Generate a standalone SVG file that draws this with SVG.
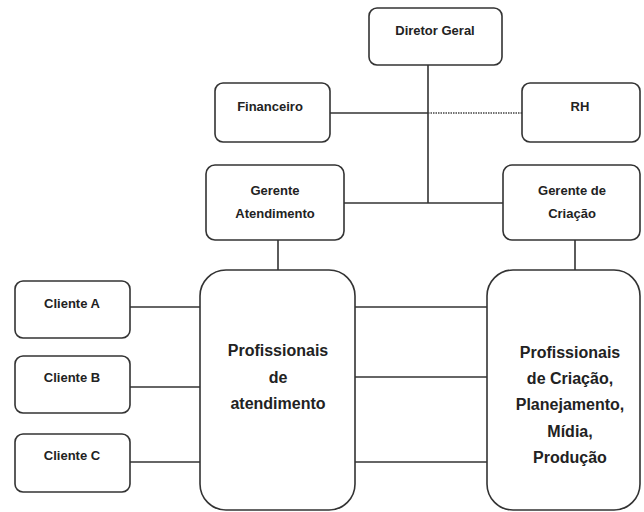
<svg xmlns="http://www.w3.org/2000/svg" width="644" height="512" viewBox="0 0 644 512">
<style>
.box{fill:#fff;stroke:#333;stroke-width:1.6}
.ln{stroke:#333;stroke-width:1.6;fill:none}
.dot{stroke:#444;stroke-width:1.6;stroke-dasharray:1.5 1;fill:none}
.s{font-family:"Liberation Sans",Arial,sans-serif;font-size:13px;font-weight:bold;fill:#222;text-anchor:middle}
.b{font-family:"Liberation Sans",Arial,sans-serif;font-size:16px;font-weight:bold;fill:#222;text-anchor:middle}
</style>
<rect width="644" height="512" fill="#fff"/>
<g id="connectors">
<line class="ln" x1="428" y1="65" x2="428" y2="203"/>
<line class="ln" x1="330" y1="113" x2="428" y2="113"/>
<line class="dot" x1="428" y1="113" x2="522" y2="113"/>
<line class="ln" x1="344" y1="203" x2="503" y2="203"/>
<line class="ln" x1="278" y1="240" x2="278" y2="270"/>
<line class="ln" x1="575" y1="240" x2="575" y2="270"/>
<line class="ln" x1="130" y1="307" x2="200" y2="307"/>
<line class="ln" x1="130" y1="387" x2="200" y2="387"/>
<line class="ln" x1="130" y1="462" x2="200" y2="462"/>
<line class="ln" x1="355" y1="307" x2="487" y2="307"/>
<line class="ln" x1="355" y1="377" x2="487" y2="377"/>
<line class="ln" x1="355" y1="462" x2="487" y2="462"/>
</g>
<g id="diretor">
<rect class="box" x="369" y="8" width="133" height="57" rx="8"/>
<text class="s" x="435" y="35">Diretor Geral</text>
</g>
<g id="financeiro">
<rect class="box" x="215" y="83" width="115" height="59" rx="8"/>
<text class="s" x="270" y="111">Financeiro</text>
</g>
<g id="rh">
<rect class="box" x="522" y="83" width="118" height="59" rx="8"/>
<text class="s" x="580" y="111">RH</text>
</g>
<g id="gerente-atendimento">
<rect class="box" x="206" y="165" width="138" height="75" rx="9"/>
<text class="s" x="275" y="195">Gerente</text>
<text class="s" x="275" y="218">Atendimento</text>
</g>
<g id="gerente-criacao">
<rect class="box" x="503" y="165" width="137" height="75" rx="9"/>
<text class="s" x="572" y="195">Gerente de</text>
<text class="s" x="572" y="218">Criação</text>
</g>
<g id="cliente-a">
<rect class="box" x="15" y="281" width="115" height="57" rx="8"/>
<text class="s" x="72" y="308">Cliente A</text>
</g>
<g id="cliente-b">
<rect class="box" x="15" y="356" width="115" height="57" rx="8"/>
<text class="s" x="72" y="382">Cliente B</text>
</g>
<g id="cliente-c">
<rect class="box" x="15" y="434" width="115" height="58" rx="8"/>
<text class="s" x="72" y="460">Cliente C</text>
</g>
<g id="prof-atendimento">
<rect class="box" x="200" y="270" width="155" height="240" rx="26"/>
<text class="b" x="278" y="356">Profissionais</text>
<text class="b" x="278" y="383">de</text>
<text class="b" x="278" y="409">atendimento</text>
</g>
<g id="prof-criacao">
<rect class="box" x="487" y="270" width="153" height="240" rx="26"/>
<text class="b" x="570" y="358">Profissionais</text>
<text class="b" x="570" y="384">de Criação,</text>
<text class="b" x="570" y="410">Planejamento,</text>
<text class="b" x="570" y="437">Mídia,</text>
<text class="b" x="570" y="463">Produção</text>
</g>
</svg>
